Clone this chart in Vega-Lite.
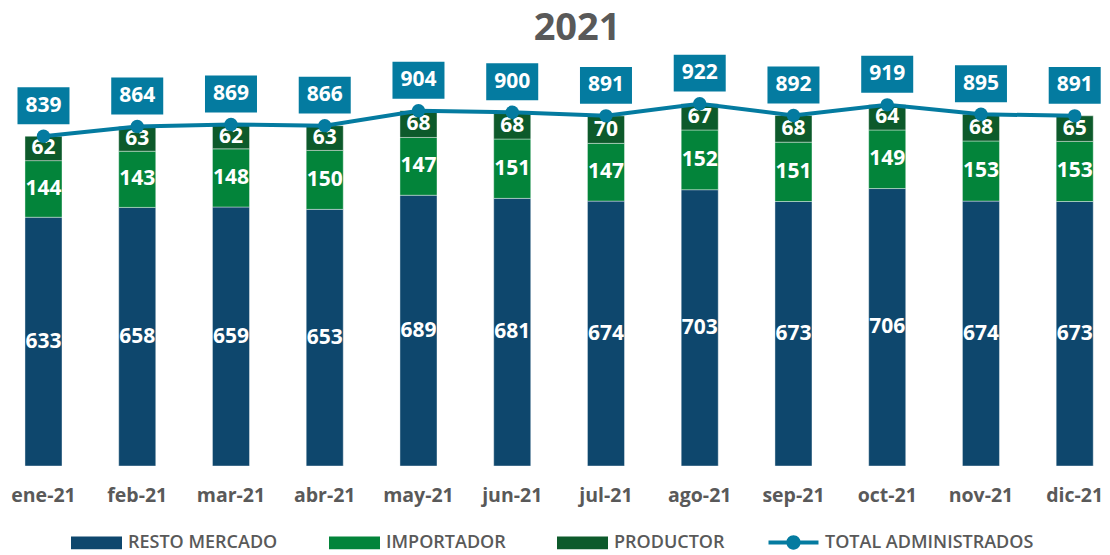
{
  "$schema": "https://vega.github.io/schema/vega-lite/v6.json",
  "width": 1087,
  "height": 393,
  "autosize": {"type": "none"},
  "padding": {"left": 15.6, "top": 73, "right": 7.4, "bottom": 89},
  "background": "white",
  "title": {"text": "2021", "fontSize": 38, "font": "Open Sans", "fontWeight": "bold", "color": "#595959", "anchor": "middle", "dx": 18, "offset": 7},
  "config": {"view": {"stroke": null}, "font": "Open Sans"},
  "datasets": {
    "barras": [
      {"mes": "ene-21", "serie": "RESTO MERCADO", "orden": 1, "valor": 633},
      {"mes": "ene-21", "serie": "IMPORTADOR", "orden": 2, "valor": 144},
      {"mes": "ene-21", "serie": "PRODUCTOR", "orden": 3, "valor": 62},
      {"mes": "feb-21", "serie": "RESTO MERCADO", "orden": 1, "valor": 658},
      {"mes": "feb-21", "serie": "IMPORTADOR", "orden": 2, "valor": 143},
      {"mes": "feb-21", "serie": "PRODUCTOR", "orden": 3, "valor": 63},
      {"mes": "mar-21", "serie": "RESTO MERCADO", "orden": 1, "valor": 659},
      {"mes": "mar-21", "serie": "IMPORTADOR", "orden": 2, "valor": 148},
      {"mes": "mar-21", "serie": "PRODUCTOR", "orden": 3, "valor": 62},
      {"mes": "abr-21", "serie": "RESTO MERCADO", "orden": 1, "valor": 653},
      {"mes": "abr-21", "serie": "IMPORTADOR", "orden": 2, "valor": 150},
      {"mes": "abr-21", "serie": "PRODUCTOR", "orden": 3, "valor": 63},
      {"mes": "may-21", "serie": "RESTO MERCADO", "orden": 1, "valor": 689},
      {"mes": "may-21", "serie": "IMPORTADOR", "orden": 2, "valor": 147},
      {"mes": "may-21", "serie": "PRODUCTOR", "orden": 3, "valor": 68},
      {"mes": "jun-21", "serie": "RESTO MERCADO", "orden": 1, "valor": 681},
      {"mes": "jun-21", "serie": "IMPORTADOR", "orden": 2, "valor": 151},
      {"mes": "jun-21", "serie": "PRODUCTOR", "orden": 3, "valor": 68},
      {"mes": "jul-21", "serie": "RESTO MERCADO", "orden": 1, "valor": 674},
      {"mes": "jul-21", "serie": "IMPORTADOR", "orden": 2, "valor": 147},
      {"mes": "jul-21", "serie": "PRODUCTOR", "orden": 3, "valor": 70},
      {"mes": "ago-21", "serie": "RESTO MERCADO", "orden": 1, "valor": 703},
      {"mes": "ago-21", "serie": "IMPORTADOR", "orden": 2, "valor": 152},
      {"mes": "ago-21", "serie": "PRODUCTOR", "orden": 3, "valor": 67},
      {"mes": "sep-21", "serie": "RESTO MERCADO", "orden": 1, "valor": 673},
      {"mes": "sep-21", "serie": "IMPORTADOR", "orden": 2, "valor": 151},
      {"mes": "sep-21", "serie": "PRODUCTOR", "orden": 3, "valor": 68},
      {"mes": "oct-21", "serie": "RESTO MERCADO", "orden": 1, "valor": 706},
      {"mes": "oct-21", "serie": "IMPORTADOR", "orden": 2, "valor": 149},
      {"mes": "oct-21", "serie": "PRODUCTOR", "orden": 3, "valor": 64},
      {"mes": "nov-21", "serie": "RESTO MERCADO", "orden": 1, "valor": 674},
      {"mes": "nov-21", "serie": "IMPORTADOR", "orden": 2, "valor": 153},
      {"mes": "nov-21", "serie": "PRODUCTOR", "orden": 3, "valor": 68},
      {"mes": "dic-21", "serie": "RESTO MERCADO", "orden": 1, "valor": 673},
      {"mes": "dic-21", "serie": "IMPORTADOR", "orden": 2, "valor": 153},
      {"mes": "dic-21", "serie": "PRODUCTOR", "orden": 3, "valor": 65}
    ],
    "totales": [
      {"mes": "ene-21", "serie": "TOTAL ADMINISTRADOS", "total": 839},
      {"mes": "feb-21", "serie": "TOTAL ADMINISTRADOS", "total": 864},
      {"mes": "mar-21", "serie": "TOTAL ADMINISTRADOS", "total": 869},
      {"mes": "abr-21", "serie": "TOTAL ADMINISTRADOS", "total": 866},
      {"mes": "may-21", "serie": "TOTAL ADMINISTRADOS", "total": 904},
      {"mes": "jun-21", "serie": "TOTAL ADMINISTRADOS", "total": 900},
      {"mes": "jul-21", "serie": "TOTAL ADMINISTRADOS", "total": 891},
      {"mes": "ago-21", "serie": "TOTAL ADMINISTRADOS", "total": 922},
      {"mes": "sep-21", "serie": "TOTAL ADMINISTRADOS", "total": 892},
      {"mes": "oct-21", "serie": "TOTAL ADMINISTRADOS", "total": 919},
      {"mes": "nov-21", "serie": "TOTAL ADMINISTRADOS", "total": 895},
      {"mes": "dic-21", "serie": "TOTAL ADMINISTRADOS", "total": 891}
    ]
  },
  "layer": [
    {
      "data": {"name": "barras"},
      "transform": [
        {"stack": "valor", "groupby": ["mes"], "sort": [{"field": "orden", "order": "ascending"}], "as": ["v0", "v1"]},
        {"calculate": "(datum.v0 + datum.v1) / 2", "as": "vm"}
      ],
      "layer": [
        {
          "mark": {"type": "bar", "stroke": "white", "strokeWidth": 0.8, "strokeOpacity": 0.5},
          "encoding": {
            "x": {
              "field": "mes", "type": "ordinal",
              "scale": {"domain": ["ene-21","feb-21","mar-21","abr-21","may-21","jun-21","jul-21","ago-21","sep-21","oct-21","nov-21","dic-21"], "paddingInner": 0.605, "paddingOuter": 0.1},
              "axis": {"title": null, "domain": false, "ticks": false, "labelFont": "Open Sans", "labelFontSize": 19.5, "labelFontWeight": "bold", "labelColor": "#595959", "labelPadding": 20, "labelAngle": 0}
            },
            "y": {"field": "v0", "type": "quantitative", "scale": {"domain": [0, 1000]}, "axis": null},
            "y2": {"field": "v1"},
            "color": {
              "field": "serie", "type": "nominal",
              "scale": {"domain": ["RESTO MERCADO", "IMPORTADOR", "PRODUCTOR"], "range": ["#0E476D", "#03843A", "#0D5A2B"]},
              "legend": {
                "orient": "none", "legendX": 55.4, "legendY": 444, "direction": "horizontal", "columns": 3,
                "title": null, "symbolType": "M-1,-0.25L1,-0.25L1,0.25L-1,0.25Z", "symbolSize": 2601, "symbolStrokeWidth": 0,
                "labelFont": "Open Sans", "labelFontSize": 18, "labelFontWeight": 600, "labelColor": "#595959", "labelLimit": 300,
                "labelOffset": 6, "columnPadding": 51, "padding": 0
              }
            }
          }
        },
        {
          "mark": {"type": "text", "color": "white", "fontWeight": "bold", "fontSize": 21, "font": "Open Sans"},
          "encoding": {
            "x": {"field": "mes", "type": "ordinal"},
            "y": {"field": "vm", "type": "quantitative"},
            "text": {"field": "valor"}
          }
        }
      ]
    },
    {
      "data": {"name": "totales"},
      "encoding": {
        "x": {"field": "mes", "type": "ordinal"},
        "y": {"field": "total", "type": "quantitative"}
      },
      "layer": [
        {"mark": {"type": "line", "color": "#047BA0", "strokeWidth": 4}},
        {
          "mark": {"type": "point", "filled": true, "opacity": 1, "size": 180},
          "encoding": {
            "fill": {
              "field": "serie", "type": "nominal",
              "scale": {"domain": ["TOTAL ADMINISTRADOS"], "range": ["#047BA0"]},
              "legend": {
                "orient": "none", "legendX": 752.4, "legendY": 444, "direction": "horizontal",
                "title": null, "symbolType": "M-0.98,-0.08L0.98,-0.08L0.98,0.08L-0.98,0.08Z M0.28,0A0.28,0.28 0 1,1 -0.28,0A0.28,0.28 0 1,1 0.28,0Z",
                "symbolSize": 2601, "symbolStrokeWidth": 0, "symbolOpacity": 1,
                "labelFont": "Open Sans", "labelFontSize": 18, "labelFontWeight": 600, "labelColor": "#595959", "labelLimit": 300,
                "labelOffset": 6, "padding": 0
              }
            }
          }
        },
        {"mark": {"type": "point", "filled": true, "opacity": 1, "color": "#047BA0", "size": 2704, "shape": "M-1,-0.71L1,-0.71L1,0.71L-1,0.71Z", "yOffset": -30.5}},
        {"mark": {"type": "text", "color": "white", "fontWeight": "bold", "fontSize": 21, "font": "Open Sans", "yOffset": -30.5}, "encoding": {"text": {"field": "total"}}}
      ]
    }
  ]
}
